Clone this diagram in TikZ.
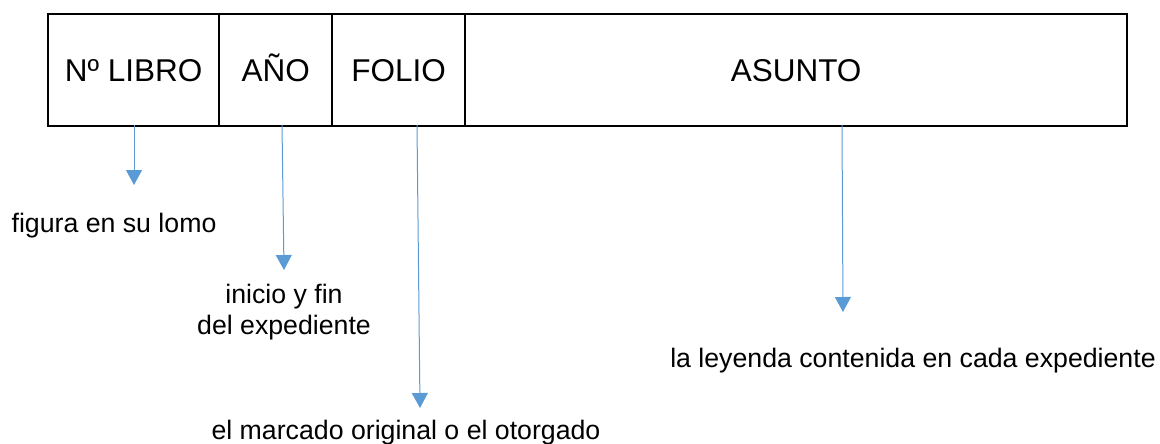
\documentclass[tikz,border=0pt]{standalone}
\usepackage{fontspec}
\setmainfont{Liberation Sans}
\usetikzlibrary{arrows.meta}
\definecolor{arrowblue}{HTML}{5B9BD5}
\begin{document}
\begin{tikzpicture}[x=1pt,y=-1pt,
  cell/.style={draw=black, line width=2.3pt, inner sep=0pt, anchor=north west,
    minimum height=112pt, text height=22.3pt, text depth=0pt,
    font=\fontsize{31.5}{37}\selectfont},
  conn/.style={draw=arrowblue, line width=1pt, -{Triangle[width=16pt,length=15pt]}},
  lbl/.style={inner sep=0pt, anchor=base, align=center, font=\fontsize{26.7}{31}\selectfont}]
\useasboundingbox (0,0) rectangle (1160,444);
\node[cell, minimum width=171pt] (c1) at (47,13) {Nº LIBRO};
\node[cell, minimum width=113pt] (c2) at (218,13) {AÑO};
\node[cell, minimum width=133pt] (c3) at (331,13) {FOLIO};
\node[cell, minimum width=662pt] (c4) at (464,13) {ASUNTO};

\coordinate (s1) at (134,125);
\coordinate (t1) at (134,185);
\coordinate (s2) at (282,125);
\coordinate (t2) at (284,270);
\coordinate (s3) at (417,125);
\coordinate (t3) at (420,408);
\coordinate (s4) at (842,125);
\coordinate (t4) at (843,312);

\draw[conn] (s1) -- (t1);
\draw[conn] (s2) -- (t2);
\draw[conn] (s3) -- (t3);
\draw[conn] (s4) -- (t4);

\node[lbl] (l1) at (114,232) {figura en su lomo};
\node[lbl] (l2) at (284,334) {inicio y fin\\del expediente};
\node[lbl] (l4) at (913,367) {la leyenda contenida en cada expediente};
\node[lbl] (l3) at (406,439) {el marcado original o el otorgado};
\end{tikzpicture}
\end{document}
